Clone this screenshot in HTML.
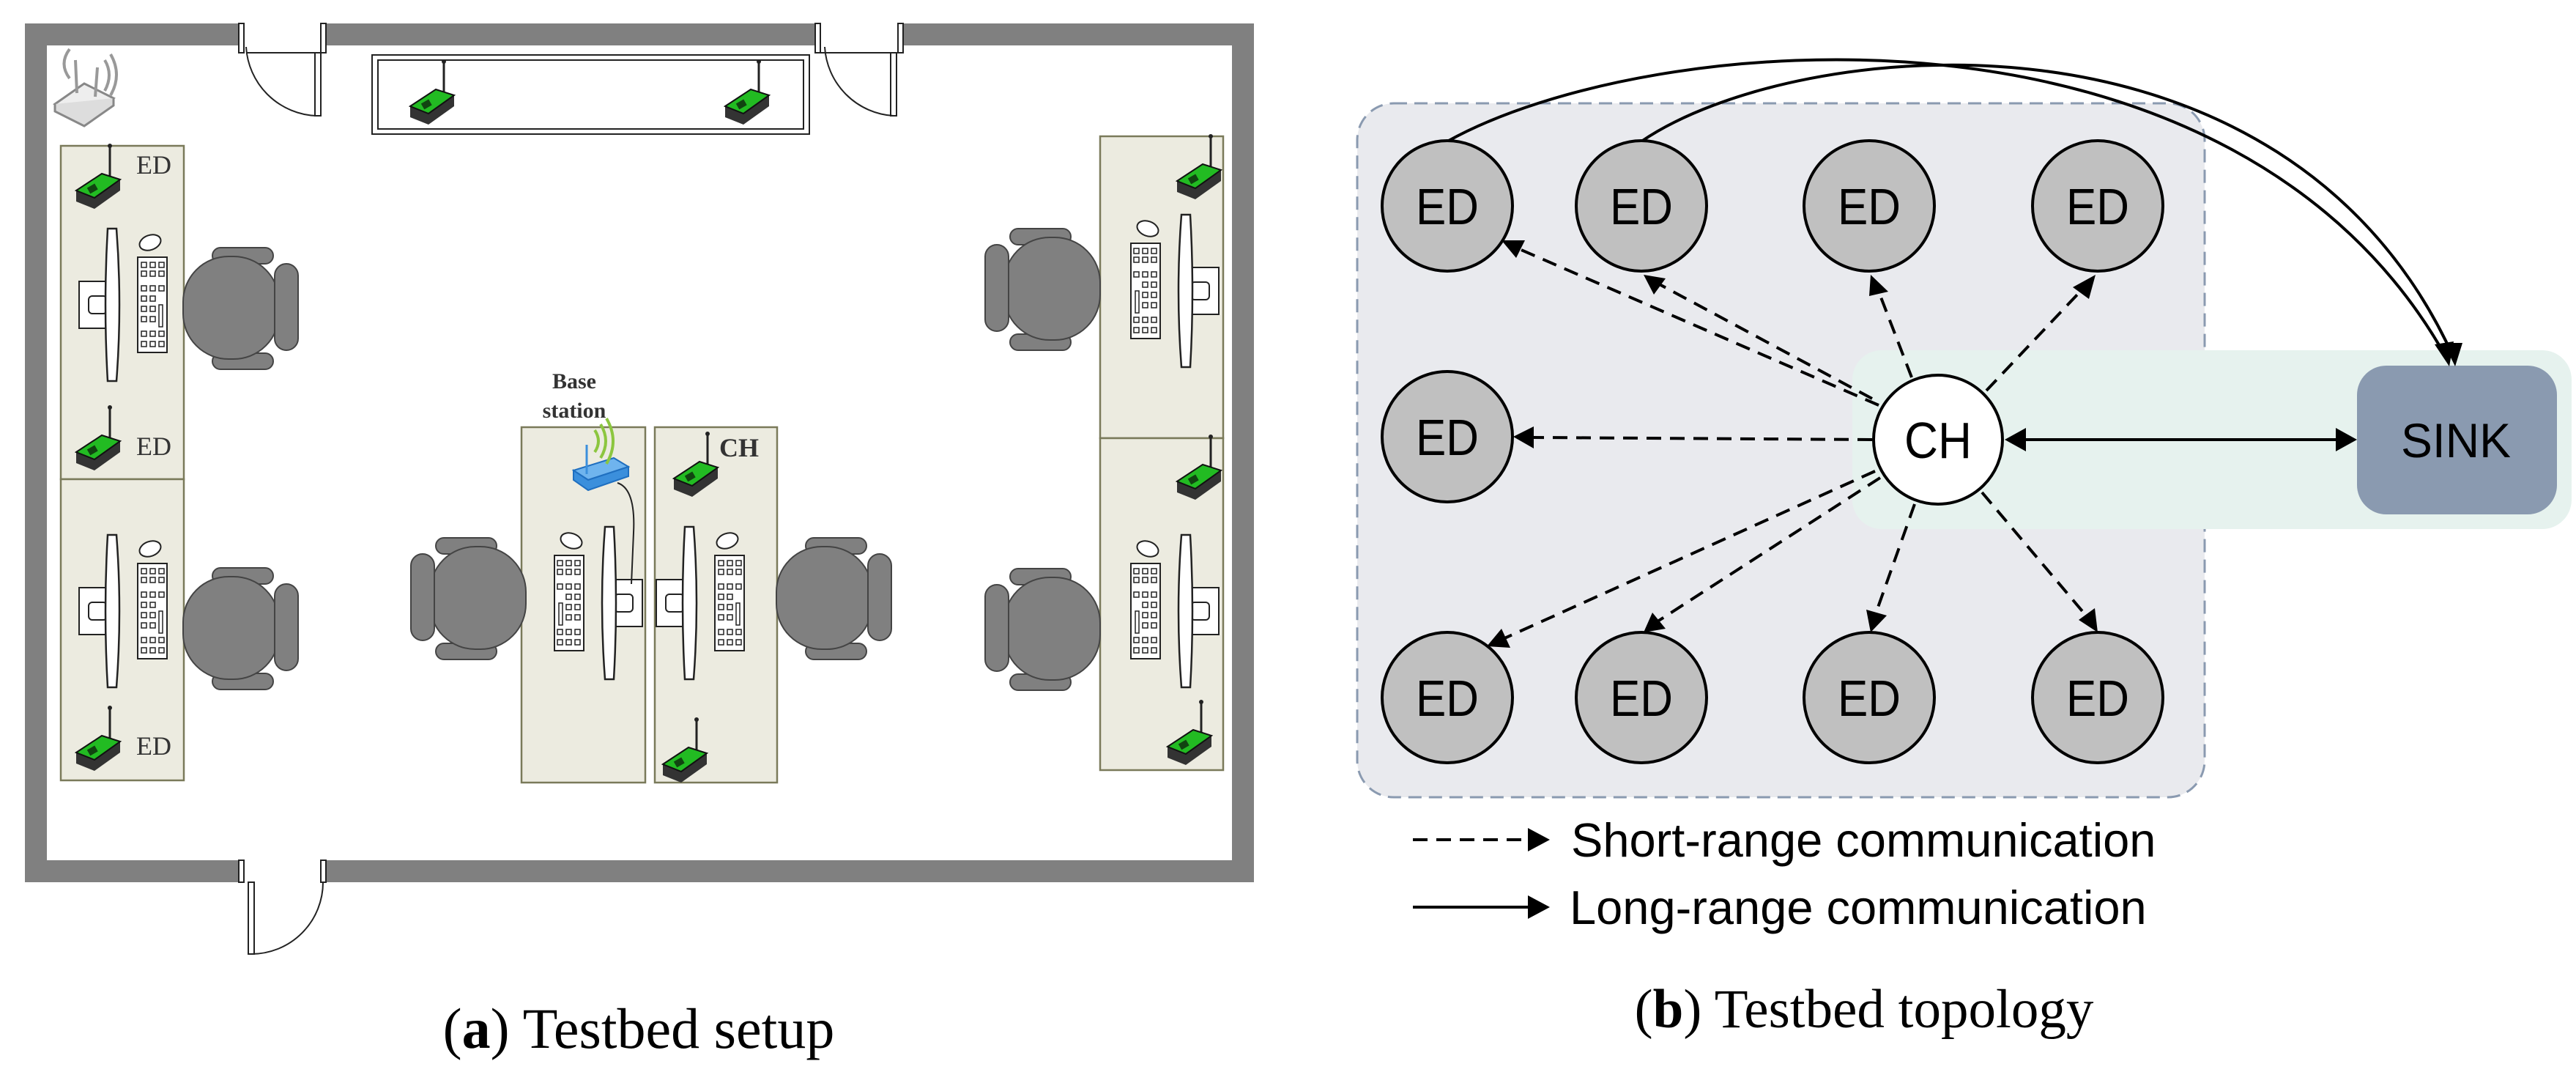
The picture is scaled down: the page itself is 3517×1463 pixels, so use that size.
<!DOCTYPE html>
<html><head><meta charset="utf-8"><style>
html,body{margin:0;padding:0;background:#fff}
svg{display:block}
</style></head><body>
<svg width="3517" height="1463" viewBox="0 0 3517 1463" xmlns="http://www.w3.org/2000/svg">
<defs>
<g id="mote">
<line x1="16" y1="-55" x2="16" y2="-10" stroke="#222" stroke-width="3"/>
<circle cx="16" cy="-56" r="3" fill="#222"/>
<path d="M-30 5 L5 -18 L30 -10 L30 5 L-5 30 L-30 20 Z" fill="#333"/>
<path d="M-30 5 L5 -18 L30 -10 L-5 15 Z" fill="#22bb22" stroke="#111" stroke-width="2"/>
<rect x="-14" y="-2" width="12" height="9" fill="#114411" transform="rotate(-30 -8 2)"/>
</g>
<g id="ws">
<rect x="-45" y="-32" width="50" height="64" fill="#fff" stroke="#222" stroke-width="2"/>
<rect x="-32" y="-12" width="25" height="24" rx="5" fill="#fff" stroke="#222" stroke-width="2"/>
<path d="M-6 -104 L6 -104 Q14 0 6 104 L-6 104 Q-12 0 -6 -104 Z" fill="#fff" stroke="#222" stroke-width="2.5"/>
<rect x="35" y="-65" width="40" height="130" fill="#fff" stroke="#222" stroke-width="2"/>
<g fill="none" stroke="#222" stroke-width="1.5">
<rect x="40" y="-58" width="7" height="7"/><rect x="52" y="-58" width="7" height="7"/><rect x="64" y="-58" width="7" height="7"/>
<rect x="40" y="-46" width="7" height="7"/><rect x="52" y="-46" width="7" height="7"/><rect x="64" y="-46" width="7" height="7"/>
<rect x="40" y="-26" width="7" height="7"/><rect x="52" y="-26" width="7" height="7"/><rect x="64" y="-26" width="7" height="7"/>
<rect x="40" y="-12" width="7" height="7"/><rect x="52" y="-12" width="7" height="7"/>
<rect x="40" y="2" width="7" height="7"/><rect x="52" y="2" width="7" height="7"/><rect x="64" y="0" width="5" height="30"/>
<rect x="40" y="16" width="7" height="7"/><rect x="52" y="16" width="7" height="7"/>
<rect x="40" y="36" width="7" height="7"/><rect x="52" y="36" width="7" height="7"/><rect x="64" y="36" width="7" height="7"/>
<rect x="40" y="50" width="7" height="7"/><rect x="52" y="50" width="7" height="7"/><rect x="64" y="50" width="7" height="7"/>
</g>
<ellipse cx="52" cy="-85" rx="15" ry="10" fill="#fff" stroke="#222" stroke-width="2" transform="rotate(-20 52 -85)"/>
</g>
<g id="chair" fill="#808080" stroke="#444" stroke-width="2">
<rect x="-25" y="-82" width="83" height="22" rx="11"/>
<rect x="-25" y="62" width="83" height="22" rx="11"/>
<rect x="-65" y="-70" width="131" height="140" rx="62"/>
<rect x="60" y="-60" width="32" height="118" rx="16"/>
</g>
</defs>

<!-- LEFT PANEL -->
<rect x="34" y="32" width="1678" height="1172" fill="#808080"/>
<rect x="64" y="62" width="1618" height="1112" fill="#fff"/>
<rect x="330" y="30" width="115" height="34" fill="#fff"/>
<rect x="1117" y="30" width="116" height="34" fill="#fff"/>
<rect x="330" y="1172" width="115" height="34" fill="#fff"/>
<g fill="#fff" stroke="#222" stroke-width="2">
<rect x="326" y="32" width="7" height="40"/><rect x="438" y="32" width="7" height="40"/>
<rect x="1113" y="32" width="7" height="40"/><rect x="1226" y="32" width="7" height="40"/>
<rect x="326" y="1174" width="7" height="30"/><rect x="438" y="1174" width="7" height="30"/>
<rect x="430" y="72" width="8" height="86"/>
<rect x="1216" y="72" width="8" height="86"/>
<rect x="339" y="1204" width="8" height="98"/>
</g>
<g fill="none" stroke="#222" stroke-width="2">
<path d="M336 64 A 100 100 0 0 0 432 158"/>
<path d="M1126 64 A 100 100 0 0 0 1220 158"/>
<path d="M343 1302 A 98 98 0 0 0 441 1204"/>
<line x1="336" y1="72" x2="430" y2="72"/>
<line x1="1120" y1="72" x2="1216" y2="72"/>
</g>
<rect x="508" y="75" width="597" height="108" fill="#fff" stroke="#222" stroke-width="2"/>
<rect x="516" y="82" width="581" height="94" fill="none" stroke="#222" stroke-width="2"/>
<g fill="#ecebe0" stroke="#7a7a5a" stroke-width="2.5">
<rect x="83" y="199" width="168" height="455"/>
<rect x="83" y="654" width="168" height="411"/>
<rect x="712" y="583" width="169" height="485"/>
<rect x="894" y="583" width="167" height="485"/>
<rect x="1502" y="186" width="168" height="412"/>
<rect x="1502" y="598" width="168" height="453"/>
</g>
<use href="#ws" transform="translate(153,416)"/>
<use href="#ws" transform="translate(153,834)"/>
<use href="#ws" transform="translate(941,823)"/>
<use href="#ws" transform="translate(832,823) scale(-1,1)"/>
<use href="#ws" transform="translate(1619,397) scale(-1,1)"/>
<use href="#ws" transform="translate(1619,834) scale(-1,1)"/>
<use href="#chair" transform="translate(315,420)"/>
<use href="#chair" transform="translate(315,857)"/>
<use href="#chair" transform="translate(1125,816)"/>
<use href="#chair" transform="translate(653,816) scale(-1,1)"/>
<use href="#chair" transform="translate(1437,394) scale(-1,1)"/>
<use href="#chair" transform="translate(1437,858) scale(-1,1)"/>
<use href="#mote" transform="translate(590,140)"/>
<use href="#mote" transform="translate(1020,140)"/>
<use href="#mote" transform="translate(134,255)"/>
<use href="#mote" transform="translate(134,612)"/>
<use href="#mote" transform="translate(134,1022)"/>
<use href="#mote" transform="translate(950,648)"/>
<use href="#mote" transform="translate(935,1038)"/>
<use href="#mote" transform="translate(1637,242)"/>
<use href="#mote" transform="translate(1637,652)"/>
<use href="#mote" transform="translate(1624,1014)"/>
<g transform="translate(125,122)">
<path d="M-50 20 L-10 -8 L30 12 L-10 40 Z" fill="#eee" stroke="#888" stroke-width="3"/>
<path d="M-50 20 L-50 30 L-10 50 L30 22 L30 12" fill="#ddd" stroke="#888" stroke-width="3"/>
<line x1="-20" y1="5" x2="-22" y2="-40" stroke="#999" stroke-width="4"/>
<line x1="5" y1="10" x2="8" y2="-30" stroke="#999" stroke-width="4"/>
<path d="M-30 -55 Q-45 -35 -30 -15" fill="none" stroke="#999" stroke-width="4"/>
<path d="M18 -40 Q30 -20 18 2" fill="none" stroke="#999" stroke-width="4"/>
<path d="M26 -48 Q42 -20 26 8" fill="none" stroke="#999" stroke-width="4"/>
</g>
<g transform="translate(818,647)">
<path d="M-35 -5 L20 -22 L40 -10 L-15 8 Z" fill="#6fb4ee" stroke="#1f6fc0" stroke-width="2"/>
<path d="M-35 -5 L-35 8 L-15 22 L40 3 L40 -10 L-15 8 Z" fill="#3b8fdc" stroke="#1f6fc0" stroke-width="2"/>
<line x1="-17" y1="0" x2="-17" y2="-40" stroke="#3b8fdc" stroke-width="3"/>
<path d="M-6 -60 Q4 -45 -6 -30" fill="none" stroke="#8cc63f" stroke-width="4"/>
<path d="M2 -68 Q16 -45 2 -22" fill="none" stroke="#8cc63f" stroke-width="4"/>
<path d="M10 -76 Q28 -45 10 -14" fill="none" stroke="#8cc63f" stroke-width="4"/>
<path d="M25 12 Q50 20 47 80 L44 150" fill="none" stroke="#222" stroke-width="2"/>
</g>
<g font-family="Liberation Serif, serif" fill="#333">
<text x="186" y="237" font-size="36">ED</text>
<text x="186" y="621" font-size="36">ED</text>
<text x="186" y="1030" font-size="36">ED</text>
<text x="982" y="623" font-size="36" font-weight="bold">CH</text>
<text x="784" y="530" font-size="30" font-weight="bold" text-anchor="middle">Base</text>
<text x="784" y="570" font-size="30" font-weight="bold" text-anchor="middle">station</text>
</g>
<text x="872" y="1430" font-family="Liberation Serif, serif" font-size="78" text-anchor="middle" fill="#000">(<tspan font-weight="bold">a</tspan>) Testbed setup</text>

<!-- RIGHT PANEL -->
<rect x="1853" y="141" width="1157" height="947" rx="50" fill="#e9eaee" stroke="#8a9ab0" stroke-width="3" stroke-dasharray="18 10"/>
<rect x="2529" y="478" width="982" height="244" rx="40" fill="#e6f2ee"/>
<rect x="3218" y="499" width="273" height="203" rx="40" fill="#8a9ab0"/>
<text x="3353" y="624" font-family="Liberation Sans, sans-serif" font-size="66" text-anchor="middle" textLength="150" lengthAdjust="spacingAndGlyphs">SINK</text>

<g fill="none" stroke="#000" stroke-width="4">
<path d="M1976 193 C2250 40, 3050 -30, 3340 488"/>
<path d="M2241 193 C2450 50, 3120 -20, 3350 488"/>
<line x1="2762" y1="600" x2="3192" y2="600"/>
</g>
<g fill="#000">
<polygon points="3344,500 3324,470 3350,466"/>
<polygon points="3352,500 3336,468 3362,468"/>
<polygon points="2737,600 2766,584 2766,616"/>
<polygon points="3218,600 3189,584 3189,616"/>
</g>

<g stroke="#000" stroke-width="4" stroke-dasharray="20 12" fill="none">
<line x1="2565" y1="553" x2="2070" y2="338"/>
<line x1="2556" y1="544" x2="2260" y2="385"/>
<line x1="2610" y1="515" x2="2565" y2="398"/>
<line x1="2712" y1="533" x2="2840" y2="398"/>
<line x1="2556" y1="600" x2="2092" y2="597"/>
<line x1="2560" y1="643" x2="2052" y2="872"/>
<line x1="2567" y1="652" x2="2260" y2="850"/>
<line x1="2614" y1="688" x2="2560" y2="840"/>
<line x1="2706" y1="672" x2="2848" y2="840"/>
</g>
<g fill="#000">
<polygon points="2050,328 2082,328 2070,352"/>
<polygon points="2244,375 2274,380 2258,402"/>
<polygon points="2554,375 2578,398 2552,404"/>
<polygon points="2861,375 2852,408 2830,392"/>
<polygon points="2066,596 2094,582 2094,612"/>
<polygon points="2030,882 2050,858 2062,884"/>
<polygon points="2244,863 2256,836 2274,858"/>
<polygon points="2554,863 2548,832 2576,840"/>
<polygon points="2864,863 2838,846 2860,830"/>
</g>

<g stroke="#000" stroke-width="4" fill="#c0c0c0">
<circle cx="1976" cy="281" r="89"/><circle cx="2241" cy="281" r="89"/>
<circle cx="2552" cy="281" r="89"/><circle cx="2864" cy="281" r="89"/>
<circle cx="1976" cy="596" r="89"/>
<circle cx="1976" cy="952" r="89"/><circle cx="2241" cy="952" r="89"/>
<circle cx="2552" cy="952" r="89"/><circle cx="2864" cy="952" r="89"/>
<circle cx="2646" cy="600" r="88" fill="#fff"/>
</g>
<g font-family="Liberation Sans, sans-serif" font-size="70" text-anchor="middle" lengthAdjust="spacingAndGlyphs">
<text x="1976" y="306" textLength="86" lengthAdjust="spacingAndGlyphs">ED</text><text x="2241" y="306" textLength="86" lengthAdjust="spacingAndGlyphs">ED</text>
<text x="2552" y="306" textLength="86" lengthAdjust="spacingAndGlyphs">ED</text><text x="2864" y="306" textLength="86" lengthAdjust="spacingAndGlyphs">ED</text>
<text x="1976" y="621" textLength="86" lengthAdjust="spacingAndGlyphs">ED</text>
<text x="1976" y="977" textLength="86" lengthAdjust="spacingAndGlyphs">ED</text><text x="2241" y="977" textLength="86" lengthAdjust="spacingAndGlyphs">ED</text>
<text x="2552" y="977" textLength="86" lengthAdjust="spacingAndGlyphs">ED</text><text x="2864" y="977" textLength="86" lengthAdjust="spacingAndGlyphs">ED</text>
<text x="2646" y="625" textLength="92" lengthAdjust="spacingAndGlyphs">CH</text>
</g>

<line x1="1929" y1="1146" x2="2090" y2="1146" stroke="#000" stroke-width="4" stroke-dasharray="20 12"/>
<polygon points="2116,1146 2086,1130 2086,1162" fill="#000"/>
<line x1="1929" y1="1238" x2="2090" y2="1238" stroke="#000" stroke-width="4"/>
<polygon points="2116,1238 2086,1222 2086,1254" fill="#000"/>
<g font-family="Liberation Sans, sans-serif" font-size="65">
<text x="2145" y="1169">Short-range communication</text>
<text x="2143" y="1261">Long-range communication</text>
</g>
<text x="2545" y="1402" font-family="Liberation Serif, serif" font-size="75" text-anchor="middle" fill="#000">(<tspan font-weight="bold">b</tspan>) Testbed topology</text>
</svg>
</body></html>
